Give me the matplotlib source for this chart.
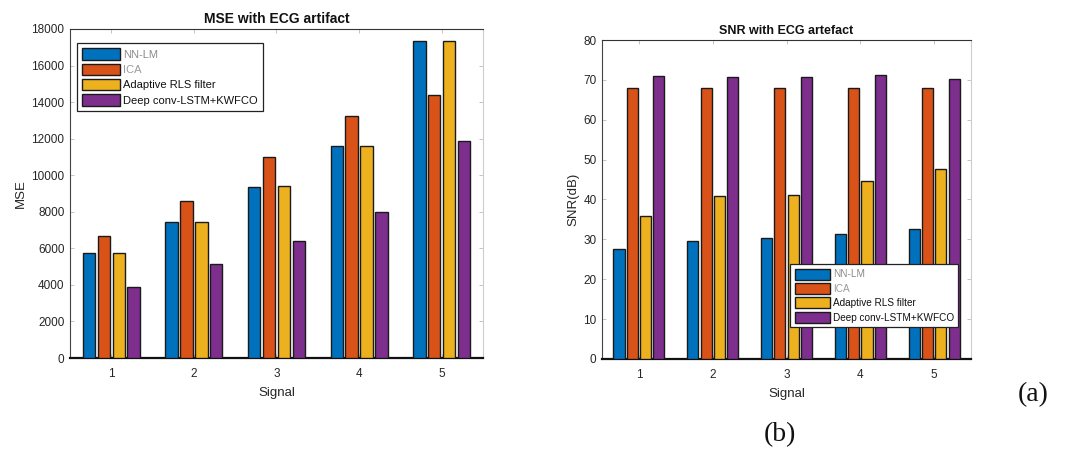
import matplotlib
matplotlib.use("Agg")
import matplotlib.pyplot as plt
import numpy as np

plt.rcParams['font.family'] = ['Liberation Sans', 'DejaVu Sans']

signals = [1, 2, 3, 4, 5]
series_names = ["NN-LM", "ICA", "Adaptive RLS filter", "Deep conv-LSTM+KWFCO"]
colors = ["#0072BD", "#D95319", "#EDB120", "#7E2F8E"]
legend_text_colors = ["#8a8a8a", "#9a9a9a", "#111111", "#111111"]

mse_nnlm = [5750, 7420, 9380, 11620, 17370]
mse_ica = [6700, 8590, 10980, 13260, 14410]
mse_rls = [5720, 7440, 9410, 11620, 17350]
mse_deep = [3900, 5120, 6400, 8010, 11870]

snr_nnlm = [27.7, 29.5, 30.4, 31.4, 32.5]
snr_ica = [68.0, 68.0, 68.0, 68.0, 68.0]
snr_rls = [35.9, 40.8, 41.2, 44.6, 47.7]
snr_deep = [71.0, 70.6, 70.8, 71.1, 70.2]

mse_yticks = list(range(0, 18001, 2000))
snr_yticks = list(range(0, 81, 10))

fig = plt.figure(figsize=(10.65, 4.51), dpi=100)
ax1 = fig.add_axes([0.0657, 0.2062, 0.3878, 0.7295])
ax2 = fig.add_axes([0.5653, 0.2040, 0.3465, 0.7073])

offsets = [-0.27, -0.09, 0.09, 0.27]
width = 0.15
x = np.array(signals, dtype=float)

def draw(ax, data, yticks, ylim, title, ylabel, legend_anchor, title_size,
         leg_fs, handlelength, handleheight, labelspacing):
    for i, vals in enumerate(data):
        ax.bar(x + offsets[i], vals, width=width, color=colors[i],
               edgecolor="#1a1a1a", linewidth=1.0, label=series_names[i], zorder=3)
    ax.set_xlim(0.5, 5.5)
    ax.set_ylim(*ylim)
    ax.set_xticks(signals)
    ax.set_yticks(yticks)
    ax.tick_params(direction="in", length=3, width=0.6, top=True, right=True,
                   labelsize=8.5, colors="#bbbbbb", labelcolor="#262626")
    ax.tick_params(axis="x", pad=7)
    ax.tick_params(axis="y", pad=4)
    ax.set_title(title, fontsize=title_size, fontweight="bold", color="#111111", pad=4)
    ax.set_xlabel("Signal", fontsize=9.5, color="#262626", labelpad=5)
    ax.set_ylabel(ylabel, fontsize=9.5, color="#262626", labelpad=3)
    ax.spines["bottom"].set_linewidth(1.6)
    ax.spines["bottom"].set_color("#111111")
    ax.spines["left"].set_color("#444444")
    ax.spines["left"].set_linewidth(0.8)
    ax.spines["top"].set_color("#333333")
    ax.spines["top"].set_linewidth(0.8)
    ax.spines["right"].set_color("#cccccc")
    ax.spines["right"].set_linewidth(0.8)
    leg = ax.legend(loc="upper left", bbox_to_anchor=legend_anchor, fontsize=leg_fs,
                    frameon=True, fancybox=False, edgecolor="#222222",
                    framealpha=1.0, handlelength=handlelength, handleheight=handleheight,
                    handletextpad=0.3, labelspacing=labelspacing, borderpad=0.45,
                    borderaxespad=0)
    leg.get_frame().set_linewidth(0.9)
    for t, c in zip(leg.get_texts(), legend_text_colors):
        t.set_color(c)
    leg.set_zorder(10)

draw(ax1, [mse_nnlm, mse_ica, mse_rls, mse_deep], mse_yticks, (0, 18000),
     "MSE with ECG artifact", "MSE", (0.017, 0.957), 10,
     8, 3.4, 1.2, 0.36)
draw(ax2, [snr_nnlm, snr_ica, snr_rls, snr_deep], snr_yticks, (0, 80),
     "SNR with ECG artefact", "SNR(dB)", (0.510, 0.297), 9,
     7.2, 3.5, 1.28, 0.36)

fig.text(0.970, 0.126, "(a)", fontsize=20, family=["Liberation Serif", "DejaVu Serif"],
         ha="center", va="center", color="#111111")
fig.text(0.7325, 0.036, "(b)", fontsize=20, family=["Liberation Serif", "DejaVu Serif"],
         ha="center", va="center", color="#111111")

fig.savefig("out.png", dpi=100, facecolor="white")
